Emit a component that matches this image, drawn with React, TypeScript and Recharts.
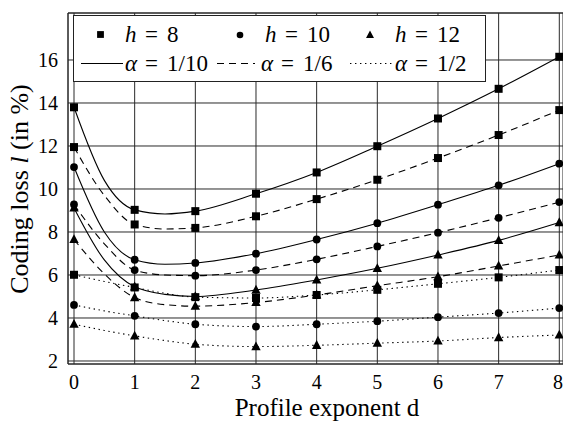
import React from 'react';
import { LineChart, Line, XAxis, YAxis, CartesianGrid, ReferenceLine, Customized } from 'recharts';

// Profile exponent d (line sample points; markers only at integer d)
const dValues = [0, 0.5, 1, 1.5, 2, 3, 4, 5, 6, 7, 8];

// Coding loss l (in %)
const h8a10 = [13.8, 10.4, 9.03, 8.84, 8.97, 9.78, 10.77, 11.99, 13.28, 14.66, 16.15];
const h8a6 = [11.95, 9.7, 8.35, 8.14, 8.19, 8.73, 9.53, 10.43, 11.44, 12.51, 13.67];
const h8a2 = [6.01, 5.7, 5.42, 5.15, 4.97, 4.93, 5.07, 5.31, 5.59, 5.89, 6.23];
const h10a10 = [11.02, 8.0, 6.71, 6.5, 6.56, 6.99, 7.65, 8.41, 9.27, 10.17, 11.18];
const h10a6 = [9.28, 7.45, 6.23, 6.0, 5.97, 6.23, 6.73, 7.33, 7.97, 8.66, 9.39];
const h10a2 = [4.61, 4.33, 4.1, 3.88, 3.71, 3.6, 3.71, 3.85, 4.04, 4.23, 4.46];
const h12a10 = [9.12, 6.7, 5.45, 5.1, 5.0, 5.3, 5.77, 6.31, 6.93, 7.61, 8.44];
const h12a6 = [7.65, 6.05, 4.95, 4.62, 4.55, 4.72, 5.07, 5.5, 5.92, 6.42, 6.93];
const h12a2 = [3.71, 3.42, 3.17, 2.95, 2.78, 2.67, 2.73, 2.83, 2.93, 3.09, 3.21];

const xTicks = [0, 1, 2, 3, 4, 5, 6, 7, 8];
const yTicks = [2, 4, 6, 8, 10, 12, 14, 16];

const DASHED = '7 5';
const DOTTED = '1.4 3.6';

const seriesDefs = [
  { key: 'h8a10', values: h8a10, marker: 'square', dash: undefined },
  { key: 'h8a6', values: h8a6, marker: 'square', dash: DASHED },
  { key: 'h8a2', values: h8a2, marker: 'square', dash: DOTTED },
  { key: 'h10a10', values: h10a10, marker: 'circle', dash: undefined },
  { key: 'h10a6', values: h10a6, marker: 'circle', dash: DASHED },
  { key: 'h10a2', values: h10a2, marker: 'circle', dash: DOTTED },
  { key: 'h12a10', values: h12a10, marker: 'triangle', dash: undefined },
  { key: 'h12a6', values: h12a6, marker: 'triangle', dash: DASHED },
  { key: 'h12a2', values: h12a2, marker: 'triangle', dash: DOTTED },
];

const data = dValues.map((d, i) => {
  const row: Record<string, number> = { d };
  seriesDefs.forEach((s) => {
    row[s.key] = s.values[i];
  });
  return row;
});

const FONT = 'Liberation Serif';
const INK = '#000';
const GRID = '#2a2a2a';

function Marker({ shape, cx, cy, s = 1 }: { shape: string; cx: number; cy: number; s?: number }) {
  if (shape === 'square') {
    const h = 4 * s;
    return <rect x={cx - h} y={cy - h} width={2 * h} height={2 * h} fill={INK} />;
  }
  if (shape === 'circle') {
    return <circle cx={cx} cy={cy} r={3.9 * s} fill={INK} />;
  }
  const w = 4.7 * s;
  const t = 5.2 * s;
  const b = 3.6 * s;
  return <polygon points={`${cx},${cy - t} ${cx - w},${cy + b} ${cx + w},${cy + b}`} fill={INK} />;
}

const makeDot = (shape: string) => (props: any) => {
  const { cx, cy, payload, index } = props;
  if (!payload || !Number.isInteger(payload.d) || cx == null || cy == null) {
    return <g key={`e-${index}`} />;
  }
  return (
    <g key={`m-${index}`}>
      <Marker shape={shape} cx={cx} cy={cy} />
    </g>
  );
};

const txt = { fontFamily: FONT };

function Decorations() {
  const row1 = 42;
  const row2 = 71;
  const fs = 23;
  const eq = (x: number, sym: string, val: string, y: number) => (
    <g>
      <text x={x} y={y} fontFamily={FONT} style={txt} fontSize={fs} fontStyle="italic" fill={INK}>{sym}</text>
      <text x={x + 20} y={y} fontFamily={FONT} style={txt} fontSize={fs} fill={INK}>=</text>
      <text x={x + 42} y={y} fontFamily={FONT} style={txt} fontSize={fs} fill={INK}>{val}</text>
    </g>
  );
  return (
    <g>
      {/* legend */}
      <rect x={73.5} y={15.5} width={412} height={66} fill="#fff" stroke="#222" strokeWidth={1} />
      <Marker shape="square" cx={100.5} cy={34.5} s={0.85} />
      {eq(125, 'h', '8', row1)}
      <Marker shape="circle" cx={240} cy={35} s={0.85} />
      {eq(265, 'h', '10', row1)}
      <Marker shape="triangle" cx={370} cy={35} s={0.85} />
      {eq(395, 'h', '12', row1)}

      <line x1={81} x2={123} y1={63.5} y2={63.5} stroke={INK} strokeWidth={1.1} />
      {eq(125, 'α', '1/10', row2)}
      <line x1={217} x2={255} y1={63.5} y2={63.5} stroke={INK} strokeWidth={1.1} strokeDasharray={DASHED} />
      {eq(261, 'α', '1/6', row2)}
      <line x1={350} x2={393} y1={63.5} y2={63.5} stroke={INK} strokeWidth={1.1} strokeDasharray={DOTTED} />
      {eq(395, 'α', '1/2', row2)}

      {/* axis titles */}
      <text x={327} y={416} textAnchor="middle" fontFamily={FONT} style={txt} fontSize={25} fill={INK}>
        Profile exponent d
      </text>
      <text transform="translate(28,189) rotate(-90)" textAnchor="middle" fontFamily={FONT} style={txt} fontSize={26} fill={INK}>
        Coding loss <tspan fontStyle="italic">l</tspan> (in %)
      </text>
    </g>
  );
}

const tickStyle = { fontFamily: FONT, fontSize: 20, fill: INK, style: { fontFamily: FONT } };

export default function App() {
  return (
    <div style={{ position: 'absolute', left: 0, top: 0, width: 563, height: 422, background: '#fff', fontFamily: FONT }}>
      <LineChart width={563} height={422} data={data} margin={{ top: 13, right: 0, bottom: 0, left: 0 }} style={{ fontFamily: FONT }}>
        <CartesianGrid stroke={GRID} strokeWidth={1} />
        <XAxis
          dataKey="d"
          type="number"
          domain={[-0.099, 8.061]}
          allowDataOverflow
          ticks={xTicks}
          height={58}
          tickSize={0}
          tickMargin={11}
          tickLine={false}
          axisLine={{ stroke: '#222', strokeWidth: 1 }}
          tick={tickStyle}
        />
        <YAxis
          type="number"
          domain={[1.86, 18.186]}
          allowDataOverflow
          ticks={yTicks}
          width={68}
          tickSize={0}
          tickMargin={10}
          tickLine={false}
          axisLine={{ stroke: '#222', strokeWidth: 1 }}
          tick={tickStyle}
        />
        <ReferenceLine y={18.186} stroke="#222" strokeWidth={1} />
        {seriesDefs.map((s) => (
          <Line
            key={s.key}
            dataKey={s.key}
            type="monotone"
            stroke={INK}
            strokeWidth={1.1}
            strokeDasharray={s.dash}
            dot={makeDot(s.marker)}
            activeDot={false}
            isAnimationActive={false}
          />
        ))}
        <Customized component={Decorations} />
      </LineChart>
    </div>
  );
}
